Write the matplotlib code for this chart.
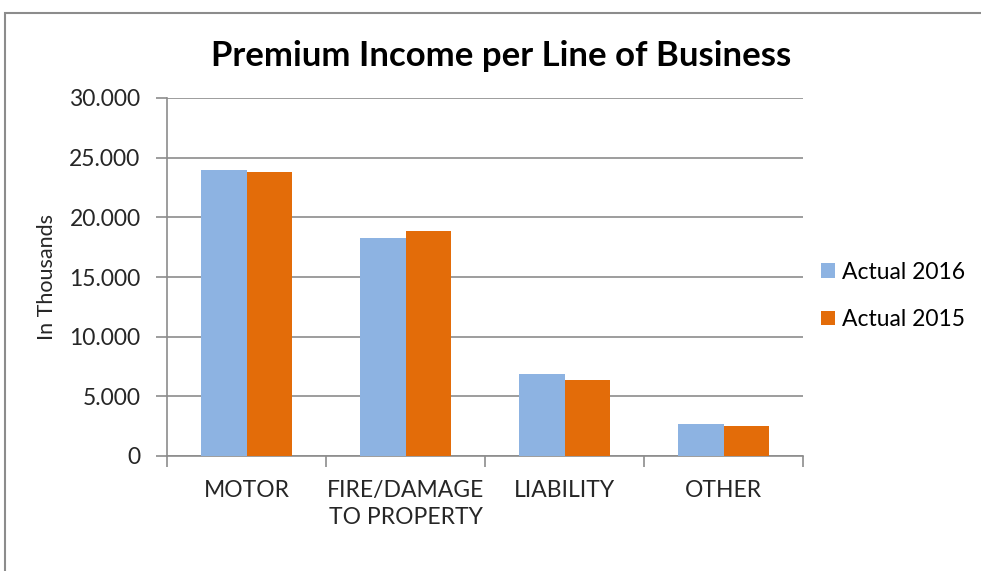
import numpy as np
import matplotlib.pyplot as plt
from matplotlib.patches import Rectangle
from matplotlib.ticker import FuncFormatter

plt.rcParams['font.family'] = ['Lato', 'DejaVu Sans']

categories = ['MOTOR', 'FIRE/DAMAGE\nTO PROPERTY', 'LIABILITY', 'OTHER']
actual_2016 = [24000, 18300, 6900, 2650]
actual_2015 = [23800, 18850, 6400, 2550]

blue = '#8DB3E2'
orange = '#E36C09'
grid_col = '#8C8C8C'

fig = plt.figure(figsize=(9.81, 5.71), dpi=100)
ax = fig.add_axes([167 / 981, 1 - 456 / 571, 636 / 981, 358 / 571])

x = np.arange(len(categories))
w = 1 / 3.5
ax.bar(x - w / 2, actual_2016, w, color=blue, label='Actual 2016', zorder=3)
ax.bar(x + w / 2, actual_2015, w, color=orange, label='Actual 2015', zorder=3)

ax.set_xlim(-0.5, len(categories) - 0.5)
ax.set_ylim(0, 30000)
ax.set_yticks(np.arange(0, 30001, 5000))
ax.yaxis.set_major_formatter(FuncFormatter(lambda v, p: '0' if v == 0 else f'{v:,.0f}'.replace(',', '.')))
ax.yaxis.grid(True, color=grid_col, lw=1.2, zorder=0)

ax.set_xticks(x)
ax.set_xticklabels(categories, fontsize=16.5, color='#262626', linespacing=1.4)
ax.set_xticks(np.arange(-0.5, len(categories)), minor=True)
ax.tick_params(axis='x', which='major', length=0, pad=17)
ax.tick_params(axis='x', which='minor', length=8, width=1.2, color=grid_col)
ax.tick_params(axis='y', length=8, width=1.2, color=grid_col, labelsize=16.5,
               labelcolor='#262626', pad=11)

for s in ['top', 'right']:
    ax.spines[s].set_visible(False)
for s in ['left', 'bottom']:
    ax.spines[s].set_color(grid_col)
    ax.spines[s].set_linewidth(1.2)

ax.set_ylabel('In Thousands', fontsize=15.5, color='#262626', labelpad=9)

fig.text(501 / 981, 1 - 56 / 571, 'Premium Income per Line of Business',
         ha='center', va='center', fontsize=25, fontweight='bold', color='black')

fig.legend(loc='center left', bbox_to_anchor=(812 / 981, 1 - 296 / 571),
           frameon=False, fontsize=16.5, handlelength=0.6, handleheight=0.6,
           handletextpad=0.3, labelspacing=1.15, borderaxespad=0)

fig.add_artist(Rectangle((5 / 981, -0.1), 1.2, 1 - 13 / 571 + 0.1,
                         transform=fig.transFigure, fill=False,
                         edgecolor='#8C8C8C', lw=1.5))

fig.savefig('out.png', dpi=100)
